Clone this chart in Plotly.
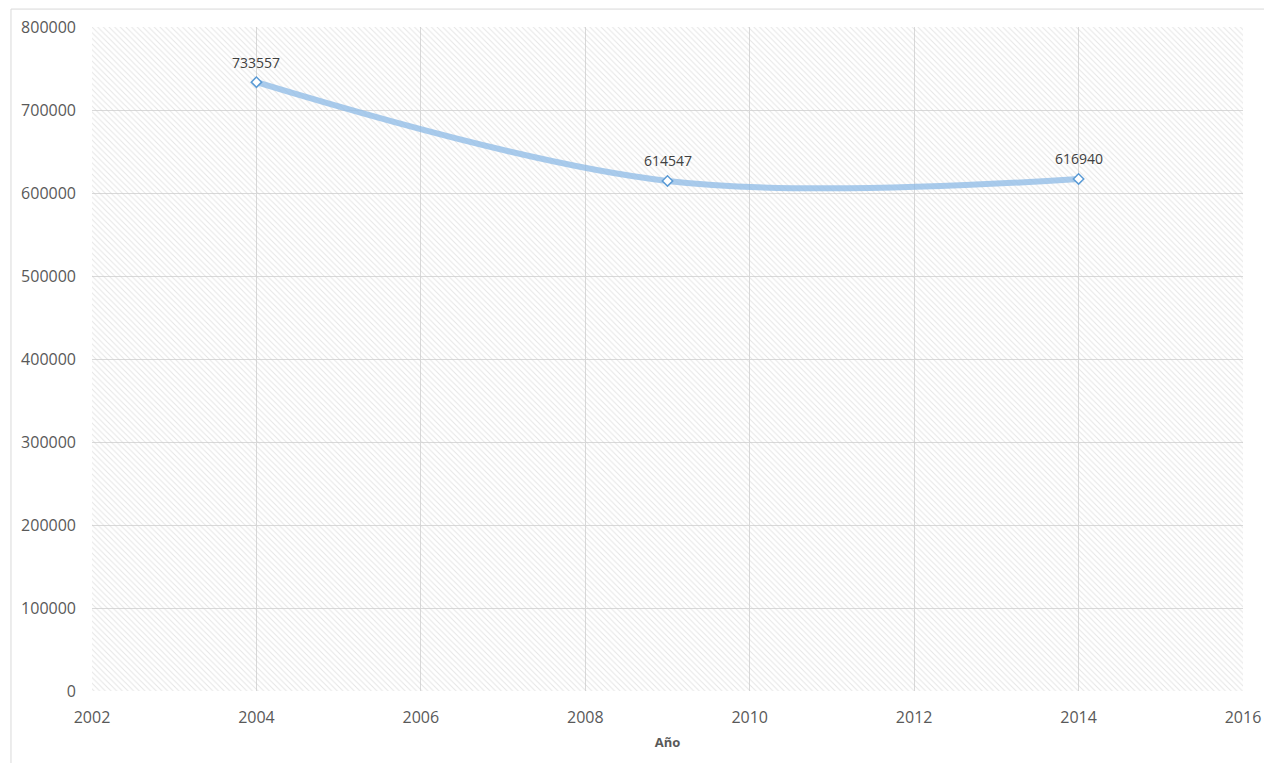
import plotly.graph_objects as go

# data
years = [2004, 2009, 2014]
values = [733557, 614547, 616940]
x_range = [2002, 2016]
y_range = [0, 800000]
x_ticks = [2002, 2004, 2006, 2008, 2010, 2012, 2014, 2016]
y_ticks = [0, 100000, 200000, 300000, 400000, 500000, 600000, 700000, 800000]

font_family = "Open Sans, Liberation Sans, sans-serif"

fig = go.Figure()

# hatched plot area background (Excel-like pattern fill)
fig.add_trace(go.Scatter(
    x=[x_range[0], x_range[1], x_range[1], x_range[0], x_range[0]],
    y=[y_range[0], y_range[0], y_range[1], y_range[1], y_range[0]],
    mode='lines', fill='toself', line=dict(width=0),
    fillcolor='rgba(0,0,0,0)',
    fillpattern=dict(shape='\\', fgcolor='#CCCCCC', bgcolor='rgba(255,255,255,0)', size=4, solidity=0.25),
    hoverinfo='skip', showlegend=False))

fig.add_trace(go.Scatter(
    x=years, y=values, mode='lines',
    line=dict(color='rgba(140,186,230,0.75)', width=6, shape='spline', smoothing=1.0),
    showlegend=False, hoverinfo='skip'))

fig.add_trace(go.Scatter(
    x=years, y=values, mode='markers',
    marker=dict(symbol='diamond', size=8, color='white', line=dict(color='#5B9BD5', width=1.5)),
    showlegend=False))

# data labels
for yr, v in zip(years, values):
    fig.add_annotation(x=yr, y=v, text=str(v), showarrow=False, yshift=20,
                       font=dict(family=font_family, size=14, color='#404040'))

fig.update_layout(
    width=1264, height=763,
    margin=dict(l=92, r=21, t=27, b=72),
    paper_bgcolor='white', plot_bgcolor='white',
    font=dict(family=font_family, color='#595959'),
    xaxis=dict(range=x_range, tickvals=x_ticks, tickformat='d', showgrid=True, gridcolor='#D9D9D9', gridwidth=1,
               zeroline=False, showline=False, ticks='', automargin=False, ticklabelstandoff=15,
               tickfont=dict(size=16, color='#595959'),
               title=dict(text='<b>Año</b>', font=dict(size=13, color='#595959'), standoff=10)),
    yaxis=dict(range=y_range, tickvals=y_ticks, tickformat='d', showgrid=True, gridcolor='#D9D9D9', gridwidth=1,
               zeroline=False, showline=False, ticks='', automargin=False, ticklabelstandoff=15,
               tickfont=dict(size=16, color='#595959')),
    shapes=[dict(type='rect', xref='paper', yref='paper', x0=-0.0704, x1=1.05, y0=-0.2, y1=1.027,
                 line=dict(color='#D9D9D9', width=1), layer='below')],
)

# drop the default page margin so the figure fills the window exactly
fig.write_html("out.html", config={'displayModeBar': False},
               post_script="document.body.style.margin='0';document.body.style.overflow='hidden';")
